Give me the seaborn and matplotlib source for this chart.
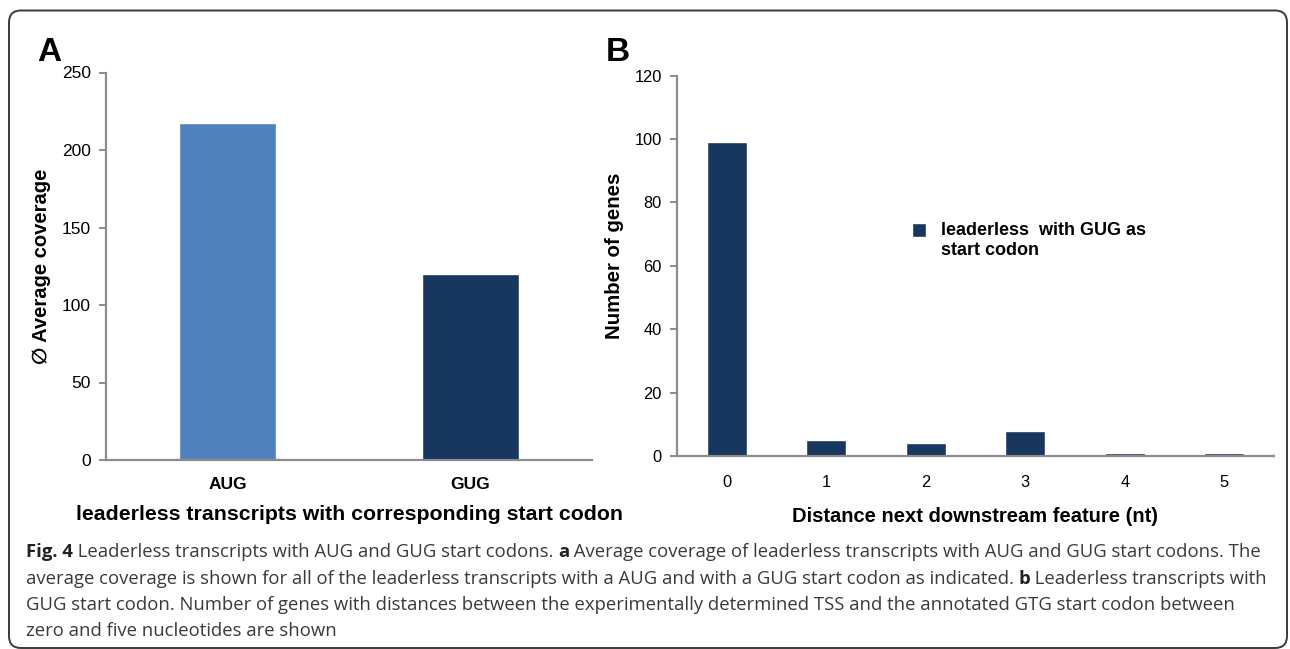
import matplotlib
matplotlib.use("Agg")
import matplotlib.pyplot as plt
from matplotlib.patches import FancyBboxPatch, Rectangle
from matplotlib.legend_handler import HandlerPatch
import seaborn as sns
import pandas as pd

# ---- data ----
codons = ["AUG", "GUG"]
coverage = [217.5, 120]
codon_colors = ["#4f81bd", "#17375e"]

distances = ["0", "1", "2", "3", "4", "5"]
gene_counts = [99, 5, 4, 8, 1, 1]

caption_lines = [
    [("Fig. 4", True), (" Leaderless transcripts with AUG and GUG start codons. ", False), ("a", True),
     (" Average coverage of leaderless transcripts with AUG and GUG start codons. The", False)],
    [("average coverage is shown for all of the leaderless transcripts with a AUG and with a GUG start codon as indicated. ", False),
     ("b", True), (" Leaderless transcripts with", False)],
    [("GUG start codon. Number of genes with distances between the experimentally determined TSS and the annotated GTG start codon between", False)],
    [("zero and five nucleotides are shown", False)],
]

sns.set_theme(style="white")
plt.rcParams["font.family"] = ["Liberation Sans", "DejaVu Sans"]
plt.rcParams["text.color"] = "black"
plt.rcParams["axes.labelcolor"] = "black"

W, H = 1290, 649
fig = plt.figure(figsize=(W / 100, H / 100), dpi=100)

axis_grey = "#8c8c8c"


def px_axes(l, r, t, b):
    return fig.add_axes([l / W, 1 - b / H, (r - l) / W, (b - t) / H])


def style_axes(ax, n, tsize, xpad):
    for s in ("top", "right"):
        ax.spines[s].set_visible(False)
    for s in ("left", "bottom"):
        ax.spines[s].set_color(axis_grey)
        ax.spines[s].set_linewidth(1.6)
    ax.set_xlim(-0.5, n - 0.5)
    ax.set_xticks([i - 0.5 for i in range(n + 1)], minor=True)
    ax.tick_params(axis="x", which="major", length=0, pad=xpad, labelsize=tsize, labelcolor="black")
    ax.tick_params(axis="x", which="minor", length=6, width=1.4, color=axis_grey, direction="out")
    ax.tick_params(axis="y", which="major", length=5, width=1.4, color=axis_grey, direction="out",
                   left=True, pad=6, labelsize=tsize, labelcolor="black")


def place_labels(ax, l, r, t, b, xl_y, yl_x, yl_y=None):
    ax.xaxis.set_label_coords(0.5, (b - xl_y) / (b - t))
    ax.xaxis.label.set_va("center")
    yfrac = 0.5 if yl_y is None else (b - yl_y) / (b - t)
    ax.yaxis.set_label_coords((yl_x - l) / (r - l), yfrac)
    ax.yaxis.label.set_va("center")


class FirstLinePatchHandler(HandlerPatch):
    """Legend square aligned with the first line of a two-line label."""

    def __init__(self, shift, **kw):
        super().__init__(**kw)
        self.shift = shift

    def create_artists(self, legend, orig_handle, xdescent, ydescent, width, height, fontsize, trans):
        p = Rectangle(xy=(-xdescent, -ydescent + self.shift * fontsize), width=width, height=height)
        self.update_prop(p, orig_handle, legend)
        p.set_transform(trans)
        return [p]


# ---- panel A ----
aL, aR, aT, aB = 106, 592, 72.5, 460
axA = px_axes(aL, aR, aT, aB)
dfA = pd.DataFrame({"codon": codons, "coverage": coverage})
sns.barplot(data=dfA, x="codon", y="coverage", hue="codon", palette=codon_colors,
            width=0.4, legend=False, ax=axA, saturation=1)
style_axes(axA, len(codons), 12.5, 12)
axA.set_ylim(0, 250)
axA.set_yticks(range(0, 251, 50))
for lab in axA.get_xticklabels():
    lab.set_fontweight("bold")
axA.set_xlabel("leaderless transcripts with corresponding start codon", fontsize=15.3,
               fontweight="bold")
axA.set_ylabel("\u2205 Average coverage", fontsize=14.5, fontweight="bold")
place_labels(axA, aL, aR, aT, aB, 515, 42)

# ---- panel B ----
bL, bR, bT, bB = 677, 1274, 75.5, 456
axB = px_axes(bL, bR, bT, bB)
dfB = pd.DataFrame({"distance": distances, "genes": gene_counts})
sns.barplot(data=dfB, x="distance", y="genes", color="#17375e", width=0.4, ax=axB,
            saturation=1, label="leaderless  with GUG as\nstart codon")
style_axes(axB, len(distances), 11.8, 14)
axB.set_ylim(0, 120)
axB.set_yticks(range(0, 121, 20))
axB.set_xlabel("Distance next downstream feature (nt)", fontsize=14.5, fontweight="bold")
axB.set_ylabel("Number of genes", fontsize=14.7, fontweight="bold")
place_labels(axB, bL, bR, bT, bB, 516, 614, 256)

handles, labels = axB.get_legend_handles_labels()
handler = FirstLinePatchHandler(0.6, update_func=lambda h, o: h.update_from(o.patches[0]))
leg = axB.legend(handles, labels, loc="upper left", bbox_to_anchor=(896 / W, 1 - 206 / H),
                 bbox_transform=fig.transFigure, frameon=False, handlelength=0.75,
                 handleheight=0.75, handletextpad=0.85, prop={"weight": "bold", "size": 13},
                 handler_map={handles[0]: handler})

# ---- panel letters ----
fig.text(37 / W, 1 - 61 / H, "A", fontsize=24, fontweight="bold", ha="left", va="baseline")
fig.text(606 / W, 1 - 61 / H, "B", fontsize=24, fontweight="bold", ha="left", va="baseline")

# ---- border ----
border = FancyBboxPatch((9, 1), W - 12, H - 11.5, boxstyle="round,pad=0,rounding_size=12",
                        transform=None, fill=False, edgecolor="#3a3a3a", linewidth=1.4)
fig.patches.append(border)

# ---- caption ----
fig.canvas.draw()
renderer = fig.canvas.get_renderer()
cap_font = ["Open Sans", "DejaVu Sans"]
line_y = [557, 584, 610, 636]
for pieces, yb in zip(caption_lines, line_y):
    x = 26
    for txt, bold in pieces:
        t = fig.text(x / W, 1 - yb / H, txt, fontsize=13.3, family=cap_font,
                     fontweight="bold" if bold else "normal",
                     color="#222222" if bold else "#3a3a3a",
                     ha="left", va="baseline")
        bb = t.get_window_extent(renderer=renderer)
        x += bb.width

fig.savefig("out.png", dpi=100)
